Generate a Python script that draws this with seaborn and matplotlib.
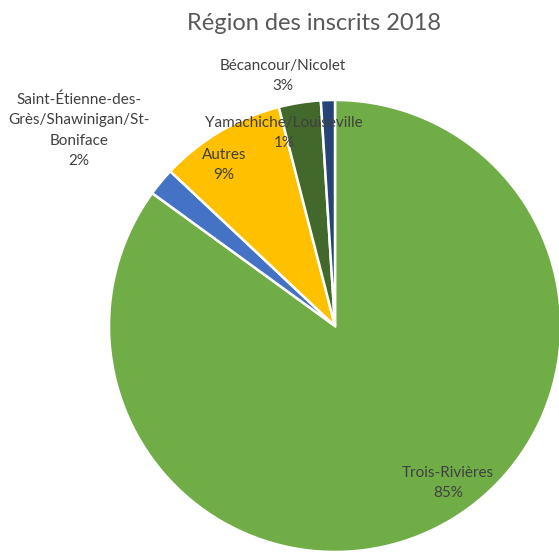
import matplotlib
matplotlib.use("Agg")
import matplotlib.pyplot as plt
import seaborn as sns

# Données
regions = ["Trois-Rivières", "Saint-Étienne-des-\nGrès/Shawinigan/St-\nBoniface", "Autres",
           "Bécancour/Nicolet", "Yamachiche/Louiseville"]
pourcentages = [85, 2, 9, 3, 1]
couleurs = ["#70AD47", "#4472C4", "#FFC000", "#43682B", "#264478"]

# positions des étiquettes (fraction de la figure)
pos_etiquettes = [(0.801, 0.128), (0.141, 0.765), (0.401, 0.702), (0.506, 0.863), (0.508, 0.760)]

sns.set_theme(style="white")
plt.rcParams["font.family"] = ["Lato", "DejaVu Sans"]

fig = plt.figure(figsize=(5.59, 5.54), dpi=100)
ax = fig.add_axes([0.195, 0.0036, 0.8086, 0.816])
ax.pie(pourcentages, colors=couleurs, startangle=90, counterclock=False,
       wedgeprops=dict(edgecolor="white", linewidth=1.8), radius=1)
ax.set_xlim(-1, 1)
ax.set_ylim(-1, 1)
ax.axis("off")

for nom, p, (x, y) in zip(regions, pourcentages, pos_etiquettes):
    fig.text(x, y, f"{nom}\n{p}%", ha="center", va="center", fontsize=11,
             color="#404040", linespacing=1.6)

fig.text(0.562, 0.958, "Région des inscrits 2018", ha="center", va="center",
         fontsize=17, color="#595959")

plt.savefig("out.png", dpi=100)
